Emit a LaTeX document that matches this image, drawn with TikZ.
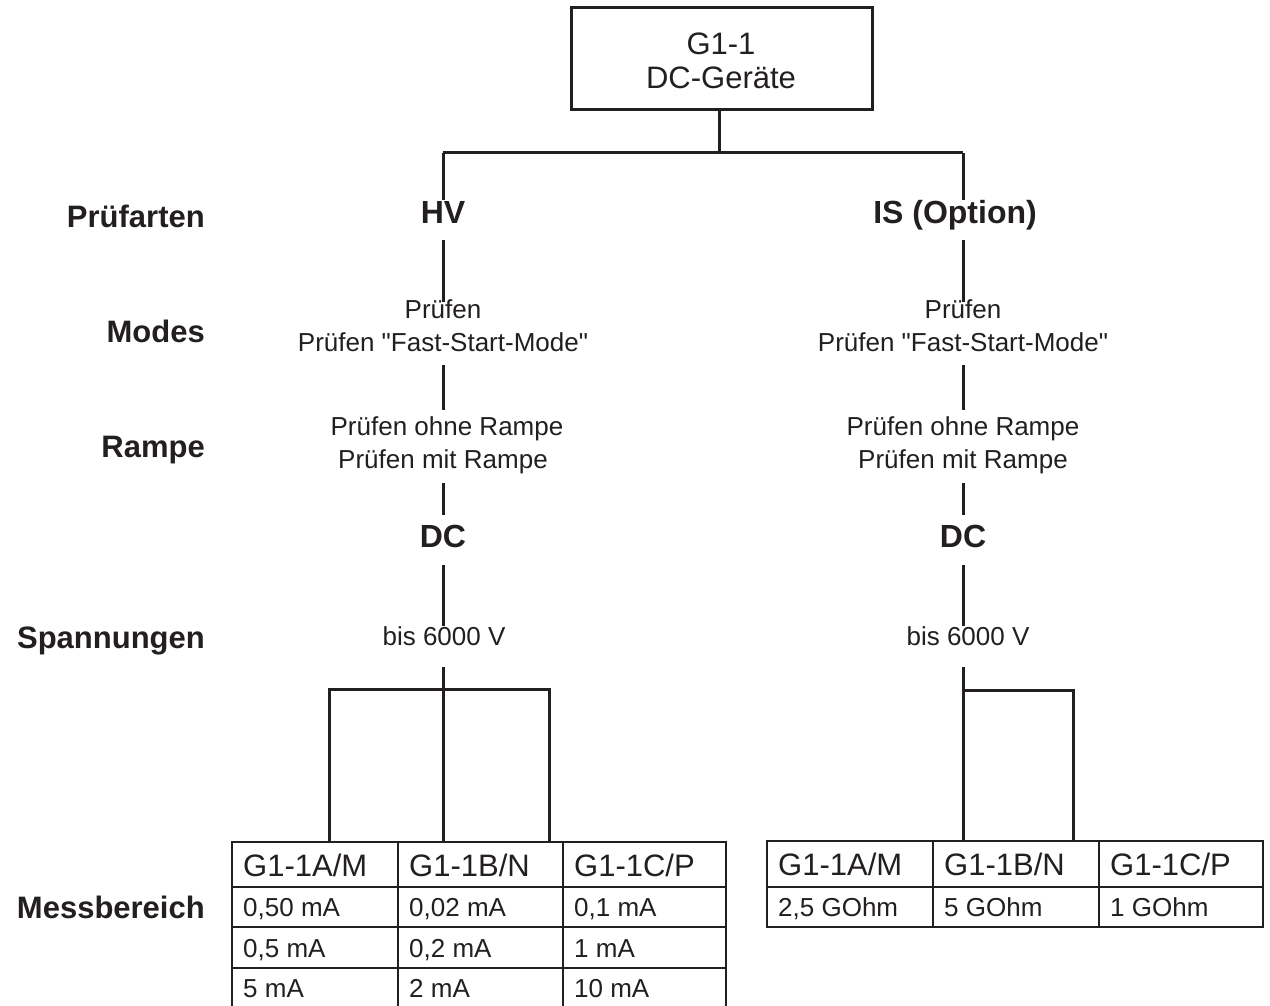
\documentclass[tikz,border=0pt]{standalone}
\usepackage{fontspec}
\setmainfont{Liberation Sans}
\definecolor{ink}{HTML}{231F20}
\begin{document}
\begin{tikzpicture}[x=1pt,y=-1pt,
  conn/.style={draw=ink, line width=3pt},
  gridline/.style={draw=ink, line width=2.4pt},
  txt/.style={font=\fontsize{26}{33}\selectfont, text=ink, inner sep=0pt, anchor=base},
  boxtxt/.style={font=\fontsize{31}{36}\selectfont, text=ink, inner sep=0pt, anchor=base},
  bold/.style={font=\bfseries\fontsize{32}{36}\selectfont, text=ink, inner sep=0pt, anchor=base},
  lbl/.style={font=\bfseries\fontsize{31}{36}\selectfont, text=ink, inner sep=0pt, anchor=base east},
  head/.style={font=\fontsize{31}{36}\selectfont, text=ink, inner sep=0pt, anchor=base west},
  val/.style={font=\fontsize{26}{30}\selectfont, text=ink, inner sep=0pt, anchor=base west}]
\useasboundingbox[fill=white] (0,0) rectangle (1270,1006);

% top box
\node[draw=ink, line width=3pt, minimum width=301pt, minimum height=102pt, inner sep=0pt] (root) at (721.5,59) {};
\node[boxtxt] (rootA) at (721,55) {G1-1};
\node[boxtxt] (rootB) at (721,89) {DC-Geräte};

% left labels
\node[lbl] (l1) at (205,227) {Prüfarten};
\node[lbl] (l2) at (205,342) {Modes};
\node[lbl] (l3) at (205,457) {Rampe};
\node[lbl] (l4) at (205,648) {Spannungen};
\node[lbl] (l5) at (205,918) {Messbereich};

% left branch texts
\node[bold] (hv) at (443,223.5) {HV};
\node[txt] (m1a) at (443,318) {Prüfen};
\node[txt] (m1b) at (443,351) {Prüfen \textquotedbl Fast-Start-Mode\textquotedbl};
\node[txt] (r1a) at (447,435) {Prüfen ohne Rampe};
\node[txt] (r1b) at (443,468) {Prüfen mit Rampe};
\node[bold] (dc1) at (443,547.5) {DC};
\node[txt] (v1) at (444,645) {bis 6000 V};

% right branch texts
\node[bold] (is) at (955,223.5) {IS (Option)};
\node[txt] (m2a) at (963,318) {Prüfen};
\node[txt] (m2b) at (963,351) {Prüfen \textquotedbl Fast-Start-Mode\textquotedbl};
\node[txt] (r2a) at (963,435) {Prüfen ohne Rampe};
\node[txt] (r2b) at (963,468) {Prüfen mit Rampe};
\node[bold] (dc2) at (963,547.5) {DC};
\node[txt] (v2) at (968,645) {bis 6000 V};

% coordinates for connectors
\coordinate (rootB0) at (719,110);
\coordinate (topL) at (443,153);
\coordinate (topM) at (719,153);
\coordinate (topR) at (963,153);
\foreach \n/\x in {L/443, R/963}{
  \coordinate (s\n1) at (\x,153);
  \coordinate (s\n2) at (\x,200);
  \coordinate (s\n3) at (\x,240);
  \coordinate (s\n4) at (\x,302);
  \coordinate (s\n5) at (\x,365);
  \coordinate (s\n6) at (\x,410);
  \coordinate (s\n7) at (\x,483);
  \coordinate (s\n8) at (\x,515);
  \coordinate (s\n9) at (\x,565);
  \coordinate (s\n10) at (\x,626);
  \coordinate (s\n11) at (\x,667);
}
\coordinate (kL) at (443,689);
\coordinate (kR) at (963,690);
\coordinate (fL1) at (329,689);
\coordinate (fL3) at (549,689);
\coordinate (fR2) at (1073,690);
\coordinate (tL1) at (329,842);
\coordinate (tL2) at (443,842);
\coordinate (tL3) at (549,842);
\coordinate (tR1) at (963,841);
\coordinate (tR2) at (1073,841);

\draw[conn] (rootB0) -- (topM);
\draw[conn] (topL) -- (topR);
\foreach \n in {L,R}{
  \draw[conn] (s\n1) -- (s\n2);
  \draw[conn] (s\n3) -- (s\n4);
  \draw[conn] (s\n5) -- (s\n6);
  \draw[conn] (s\n7) -- (s\n8);
  \draw[conn] (s\n9) -- (s\n10);
  \draw[conn] (s\n11) -- (k\n);
}
\draw[conn] (tL1) -- (fL1) -- (fL3) -- (tL3);
\draw[conn] (kL) -- (tL2);
\draw[conn] (tR1) -- (kR) -- (fR2) -- (tR2);

% left table
\draw[gridline] (232,842) rectangle (726,1010);
\foreach \yy in {887,927,968} \draw[gridline] (232,\yy) -- (726,\yy);
\foreach \xx in {398,563} \draw[gridline] (\xx,842) -- (\xx,1010);
\node[head] (ta1) at (243,876) {G1-1A/M};
\node[head] (tb1) at (409,876) {G1-1B/N};
\node[head] (tc1) at (574,876) {G1-1C/P};
\node[val] (ta2) at (243,916) {0,50 mA};
\node[val] (tb2) at (409,916) {0,02 mA};
\node[val] (tc2) at (574,916) {0,1 mA};
\node[val] (ta3) at (243,957) {0,5 mA};
\node[val] (tb3) at (409,957) {0,2 mA};
\node[val] (tc3) at (574,957) {1 mA};
\node[val] (ta4) at (243,997) {5 mA};
\node[val] (tb4) at (409,997) {2 mA};
\node[val] (tc4) at (574,997) {10 mA};

% right table
\draw[gridline] (767,841) rectangle (1263,927);
\draw[gridline] (767,887) -- (1263,887);
\foreach \xx in {933,1099} \draw[gridline] (\xx,841) -- (\xx,927);
\node[head] (ua1) at (778,875) {G1-1A/M};
\node[head] (ub1) at (944,875) {G1-1B/N};
\node[head] (uc1) at (1110,875) {G1-1C/P};
\node[val] (ua2) at (778,916) {2,5 GOhm};
\node[val] (ub2) at (944,916) {5 GOhm};
\node[val] (uc2) at (1110,916) {1 GOhm};
\end{tikzpicture}
\end{document}
